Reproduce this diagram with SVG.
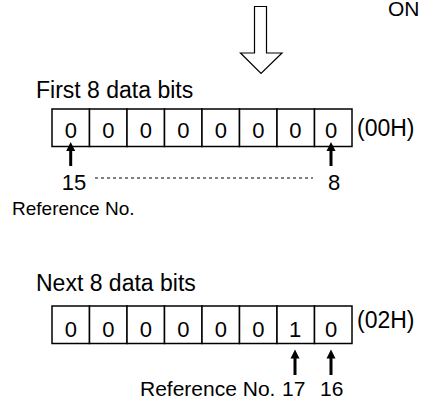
<svg xmlns="http://www.w3.org/2000/svg" width="422" height="400" viewBox="0 0 422 400">
<style>
text{font-family:"Liberation Sans",Arial,sans-serif;fill:#000}
.h{font-size:23px}
.d{font-size:22px;text-anchor:middle}
.cell{fill:#fff;stroke:#000;stroke-width:1.5}
.ref{font-size:19px}
.ref2{font-size:21px}
.hollow{fill:#fff;stroke:#000;stroke-width:1.2;stroke-linejoin:miter}
.shaft{stroke:#000;stroke-width:3}
.dash{stroke:#000;stroke-width:1;stroke-dasharray:3 3}
</style>
<defs>
<polygon id="ah" points="0,0 4.5,9 -4.5,9" fill="#000"/>
</defs>
<rect width="422" height="400" fill="#fff"/>
<g id="on-label"><text x="388" y="16" style="font-size:21px">ON</text></g>
<g id="first-byte">
<text class="h" x="36" y="98">First 8 data bits</text>
<rect class="cell" x="52" y="109" width="37.5" height="37.5"/>
<rect class="cell" x="89.5" y="109" width="37.5" height="37.5"/>
<rect class="cell" x="127" y="109" width="37.5" height="37.5"/>
<rect class="cell" x="164.5" y="109" width="37.5" height="37.5"/>
<rect class="cell" x="202" y="109" width="37.5" height="37.5"/>
<rect class="cell" x="239.5" y="109" width="37.5" height="37.5"/>
<rect class="cell" x="277" y="109" width="37.5" height="37.5"/>
<rect class="cell" x="314.5" y="109" width="37.5" height="37.5"/>
<text class="d" x="70.75" y="138">0</text>
<text class="d" x="108.25" y="138">0</text>
<text class="d" x="145.75" y="138">0</text>
<text class="d" x="183.25" y="138">0</text>
<text class="d" x="220.75" y="138">0</text>
<text class="d" x="258.25" y="138">0</text>
<text class="d" x="295.25" y="138">0</text>
<text class="d" x="331" y="138">0</text>
<text class="h" x="357" y="136">(00H)</text>
<text class="d" x="74" y="190">15</text>
<text class="d" x="334" y="190">8</text>
<text class="ref" x="12" y="215">Reference No.</text>
</g>
<g id="next-byte">
<text class="h" x="36" y="291">Next 8 data bits</text>
<rect class="cell" x="52" y="306" width="37.5" height="37.5"/>
<rect class="cell" x="89.5" y="306" width="37.5" height="37.5"/>
<rect class="cell" x="127" y="306" width="37.5" height="37.5"/>
<rect class="cell" x="164.5" y="306" width="37.5" height="37.5"/>
<rect class="cell" x="202" y="306" width="37.5" height="37.5"/>
<rect class="cell" x="239.5" y="306" width="37.5" height="37.5"/>
<rect class="cell" x="277" y="306" width="37.5" height="37.5"/>
<rect class="cell" x="314.5" y="306" width="37.5" height="37.5"/>
<text class="d" x="70.75" y="337">0</text>
<text class="d" x="108.25" y="337">0</text>
<text class="d" x="145.75" y="337">0</text>
<text class="d" x="183.25" y="337">0</text>
<text class="d" x="220.75" y="337">0</text>
<text class="d" x="258.25" y="337">0</text>
<text class="d" x="295" y="337">1</text>
<text class="d" x="331" y="337">0</text>
<text class="h" x="357" y="328">(02H)</text>
<text class="ref2" y="396"><tspan x="140">Reference No.</tspan><tspan x="282">17</tspan><tspan x="320">16</tspan></text>
</g>
<g id="connectors">
<polygon class="hollow" points="254.5,6.5 266.5,6.5 266.5,53 282,53 261,73.5 240.5,53 254.5,53"/>
<line class="shaft" x1="70.7" y1="150" x2="70.7" y2="166"/>
<use href="#ah" x="70.7" y="142"/>
<line class="shaft" x1="331" y1="150" x2="331" y2="166"/>
<use href="#ah" x="331" y="142"/>
<line class="dash" x1="95" y1="178" x2="313" y2="178"/>
<line class="shaft" x1="295" y1="357" x2="295" y2="375"/>
<use href="#ah" x="295" y="349.5"/>
<line class="shaft" x1="331" y1="357" x2="331" y2="375"/>
<use href="#ah" x="331" y="349.5"/>
</g>
</svg>
